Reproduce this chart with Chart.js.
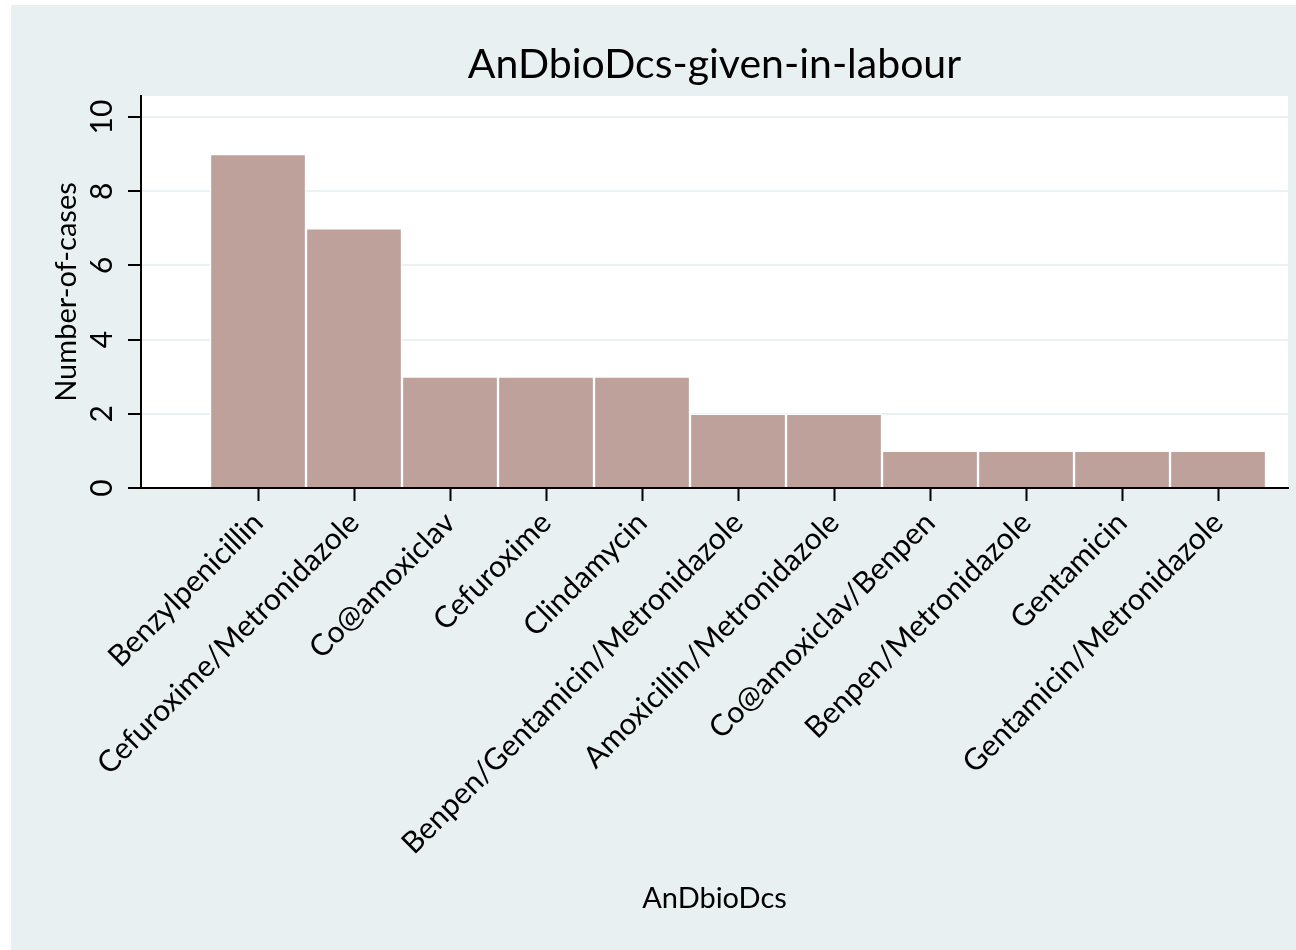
<!DOCTYPE html>
<html lang="en">
<head>
    <meta charset="UTF-8">
    <title>AnDbioDcs-given-in-labour</title>
    <script src="https://cdn.jsdelivr.net/npm/chart.js"></script>
    <style>
        html, body {
            margin: 0;
            padding: 0;
            background: #ffffff;
        }
        .chart-box {
            position: relative;
            width: 1296px;
            height: 950px;
        }
    </style>
</head>
<body>
    <div class="chart-box">
        <canvas id="abxChart"></canvas>
    </div>

    <script>
        // data
        const drugNames = [
            'Benzylpenicillin',
            'Cefuroxime/Metronidazole',
            'Co@amoxiclav',
            'Cefuroxime',
            'Clindamycin',
            'Benpen/Gentamicin/Metronidazole',
            'Amoxicillin/Metronidazole',
            'Co@amoxiclav/Benpen',
            'Benpen/Metronidazole',
            'Gentamicin',
            'Gentamicin/Metronidazole'
        ];
        const caseCounts = [9, 7, 3, 3, 3, 2, 2, 1, 1, 1, 1];
        const yTicks = [0, 2, 4, 6, 8, 10];
        const chartTitle = 'AnDbioDcs-given-in-labour';

        const bgColor = '#e8f0f2';
        const barColor = '#bda19a';
        const gridColor = '#e9f1f3';
        const fontFamily = 'Lato, "Open Sans", sans-serif';

        // grey-blue backdrop with a white plot region, like the Stata scheme
        const backdrop = {
            id: 'backdrop',
            beforeDraw(chart) {
                const { ctx, chartArea } = chart;
                ctx.save();
                ctx.fillStyle = bgColor;
                ctx.fillRect(11, 5, chart.width - 11, chart.height - 5);
                ctx.fillStyle = '#ffffff';
                ctx.fillRect(chartArea.left, chartArea.top,
                    chartArea.right - chartArea.left, chartArea.bottom - chartArea.top);
                ctx.restore();
            }
        };

        // title centred over the plot region rather than the whole canvas
        const plotTitle = {
            id: 'plotTitle',
            afterDraw(chart) {
                const { ctx, chartArea } = chart;
                ctx.save();
                ctx.fillStyle = '#000';
                ctx.font = '41px ' + fontFamily;
                ctx.textAlign = 'center';
                ctx.textBaseline = 'alphabetic';
                ctx.fillText(chartTitle, (chartArea.left + chartArea.right) / 2, 78);
                ctx.restore();
            }
        };

        const ctx = document.getElementById('abxChart').getContext('2d');
        const abxChart = new Chart(ctx, {
            type: 'bar',
            data: {
                datasets: [{
                    label: 'Number-of-cases',
                    data: drugNames.map((name, i) => ({ x: i, y: caseCounts[i] })),
                    backgroundColor: barColor,
                    borderColor: '#ffffff',
                    borderWidth: 1.5,
                    categoryPercentage: 1,
                    barPercentage: 1
                }]
            },
            options: {
                responsive: true,
                maintainAspectRatio: false,
                animation: false,
                layout: {
                    padding: { left: 11, right: 8, top: 96, bottom: 0 }
                },
                plugins: {
                    legend: { display: false },
                    tooltip: { enabled: false },
                    title: { display: false }
                },
                scales: {
                    x: {
                        type: 'linear',
                        offset: false,
                        min: -1.21875,
                        max: 10.729,
                        z: 1,
                        afterBuildTicks: (scale) => {
                            scale.ticks = drugNames.map((name, i) => ({ value: i }));
                        },
                        afterFit: (scale) => { scale.height = 462; },
                        grid: {
                            offset: false,
                            drawOnChartArea: false,
                            drawTicks: true,
                            tickLength: 13,
                            tickColor: '#000',
                            tickWidth: 2
                        },
                        border: { color: '#000', width: 2 },
                        ticks: {
                            autoSkip: false,
                            minRotation: 45,
                            maxRotation: 45,
                            padding: 4,
                            color: '#000',
                            font: { family: fontFamily, size: 30 },
                            callback: (value) => drugNames[value]
                        },
                        title: {
                            display: true,
                            text: 'AnDbioDcs',
                            color: '#000',
                            font: { family: fontFamily, size: 29 },
                            padding: { top: 0, bottom: 34 }
                        }
                    },
                    y: {
                        min: 0,
                        max: 10.566,
                        afterBuildTicks: (scale) => {
                            scale.ticks = yTicks.map(v => ({ value: v }));
                        },
                        afterFit: (scale) => { scale.width = 130; },
                        grid: {
                            color: (c) => c.tick && c.tick.value === 0 ? 'rgba(0,0,0,0)' : gridColor,
                            lineWidth: 2,
                            drawTicks: true,
                            tickLength: 13,
                            tickColor: '#000',
                            tickWidth: 2
                        },
                        border: { color: '#000', width: 2 },
                        ticks: {
                            minRotation: 90,
                            maxRotation: 90,
                            crossAlign: 'center',
                            padding: 8,
                            color: '#000',
                            font: { family: fontFamily, size: 30 }
                        },
                        title: {
                            display: true,
                            text: 'Number-of-cases',
                            color: '#000',
                            font: { family: fontFamily, size: 29 },
                            padding: { top: 38, bottom: 0 }
                        }
                    }
                }
            },
            plugins: [backdrop, plotTitle]
        });
    </script>
</body>
</html>
